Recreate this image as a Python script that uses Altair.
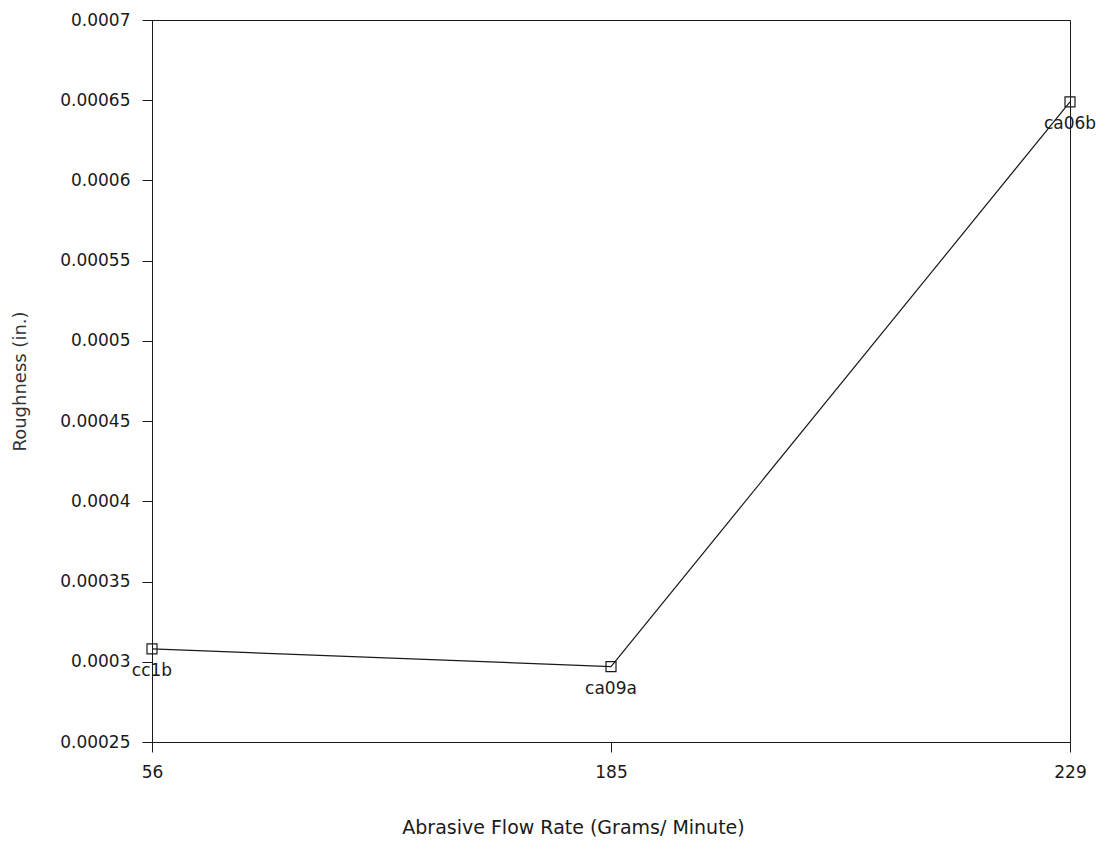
import altair as alt
import pandas as pd

rates = [56, 185, 229]
roughness = [0.000308, 0.000297, 0.000649]
labels = ["cc1b", "ca09a", "ca06b"]
y_ticks = [0.00025, 0.0003, 0.00035, 0.0004, 0.00045, 0.0005, 0.00055, 0.0006, 0.00065, 0.0007]

df = pd.DataFrame({"rate": rates, "rough": roughness, "label": labels})

FONT = "DejaVu Sans"
INK = "#1a1a1a"

x_enc = alt.X(
    "rate:O",
    sort=rates,
    scale=alt.Scale(type="point", padding=0),
    axis=alt.Axis(
        title="Abrasive Flow Rate (Grams/ Minute)",
        labelAngle=0,
        labelFont=FONT, labelFontSize=17, labelColor=INK, labelPadding=12,
        titleFont=FONT, titleFontSize=19, titleFontWeight="normal", titleColor=INK,
        titleX=421, titleY=76, titleBaseline="top",
        tickSize=10, tickColor=INK, domainColor=INK, grid=False,
    ),
)
y_enc = alt.Y(
    "rough:Q",
    scale=alt.Scale(domain=[0.00025, 0.0007], nice=False, zero=False),
    axis=alt.Axis(
        title="Roughness (in.)",
        values=y_ticks, format="~f",
        labelFont=FONT, labelFontSize=17, labelColor=INK, labelPadding=12,
        titleFont=FONT, titleFontSize=18, titleFontWeight="normal", titleColor="#333",
        titleX=-132, titleY=361, titleBaseline="middle", titleAngle=-90,
        tickSize=10, tickColor=INK, domainColor=INK, grid=False,
    ),
)

base = alt.Chart(df)
line = base.mark_line(color=INK, strokeWidth=1.2).encode(x=x_enc, y=y_enc)
pts = base.mark_point(shape="square", filled=False, size=100, color=INK, strokeWidth=1.2, opacity=1).encode(x=x_enc, y=y_enc)
txt = base.mark_text(font=FONT, fontSize=17, color=INK, baseline="top", dy=14).encode(x=x_enc, y=y_enc, text="label:N")

chart = (
    alt.layer(line, pts, txt)
    .properties(
        width=918, height=722,
        background="white",
        autosize=alt.AutoSizeParams(type="none"),
        padding={"left": 144, "top": 12, "right": 28, "bottom": 100},
    )
    .configure_view(stroke=INK, strokeWidth=1)
)

chart.save("out.html", embed_options={"renderer": "svg", "actions": False})
